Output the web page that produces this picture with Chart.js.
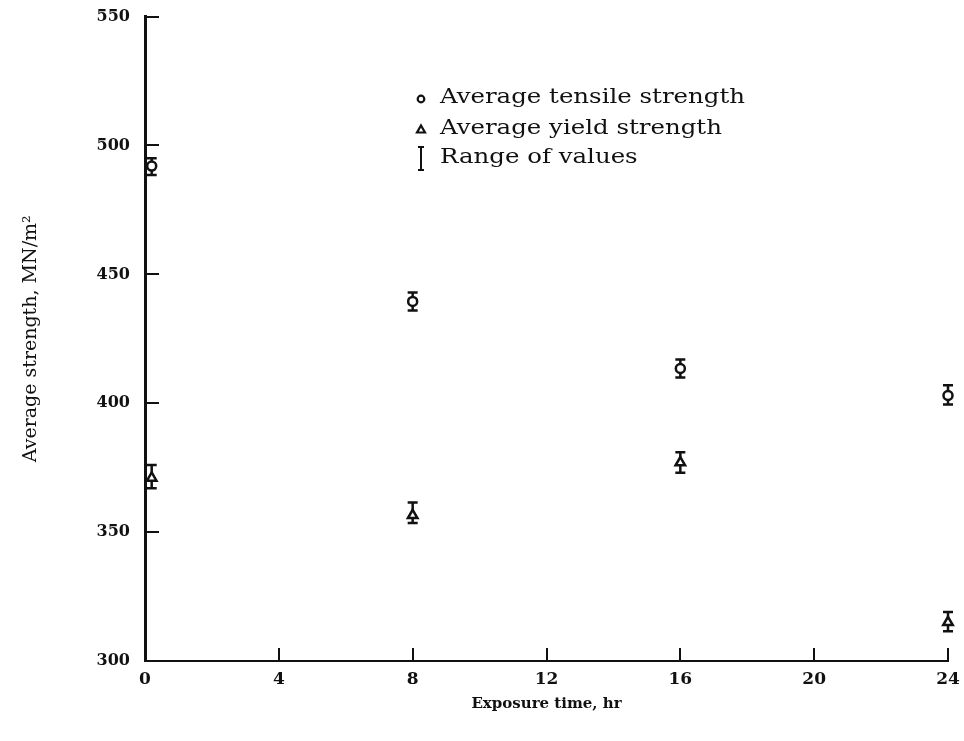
<!DOCTYPE html>
<html lang="en">
<head>
  <meta charset="UTF-8" />
  <title>Average strength vs exposure time</title>
  <script src="https://cdn.jsdelivr.net/npm/chart.js"></script>
  <style>
    html, body { margin: 0; padding: 0; background: #fff; }
    #wrap { width: 964px; height: 741px; }
  </style>
</head>
<body>
  <div id="wrap"><canvas id="strengthChart" width="964" height="741"></canvas></div>

  <script>
    // exposure times (hr) and strengths (MN/m^2)
    const hours = [0.2, 8, 16, 24];
    const tensileAvg = [492, 439.5, 413.5, 403];
    const tensileLow = [488.5, 436, 410, 399.5];
    const tensileHigh = [495, 443, 417, 407];
    const yieldAvg = [371, 356.5, 377, 315];
    const yieldLow = [367, 353.5, 373, 311.5];
    const yieldHigh = [376, 361.5, 381, 319];

    const xTicks = [0, 4, 8, 12, 16, 20, 24];
    const yTicks = [300, 350, 400, 450, 500, 550];
    const legendLabels = ['Average tensile strength', 'Average yield strength', 'Range of values'];

    const ink = '#111';
    const serif = '"DejaVu Serif", "Liberation Serif", serif';

    const toPoints = (vals) => hours.map((h, i) => ({ x: h, y: vals[i] }));

    // vertical range bars with caps, drawn under the markers
    const rangeBars = {
      id: 'rangeBars',
      beforeDatasetsDraw(chart) {
        const { ctx, scales: { x, y } } = chart;
        ctx.save();
        ctx.strokeStyle = ink;
        ctx.lineWidth = 2.5;
        [[tensileLow, tensileHigh], [yieldLow, yieldHigh]].forEach(([lo, hi]) => {
          hours.forEach((h, i) => {
            const px = x.getPixelForValue(h);
            const top = y.getPixelForValue(hi[i]);
            const bot = y.getPixelForValue(lo[i]);
            ctx.beginPath();
            ctx.moveTo(px, top); ctx.lineTo(px, bot);
            ctx.moveTo(px - 5, top); ctx.lineTo(px + 5, top);
            ctx.moveTo(px - 5, bot); ctx.lineTo(px + 5, bot);
            ctx.stroke();
          });
        });
        ctx.restore();
      }
    };

    // tick marks point into the plot
    const innerTicks = {
      id: 'innerTicks',
      afterDraw(chart) {
        const { ctx, chartArea: a, scales: { x, y } } = chart;
        ctx.save();
        ctx.strokeStyle = ink;
        ctx.lineWidth = 2;
        ctx.beginPath();
        yTicks.forEach(v => {
          const py = Math.round(y.getPixelForValue(v));
          ctx.moveTo(a.left, py); ctx.lineTo(a.left + 14, py);
        });
        xTicks.forEach(v => {
          const px = Math.round(x.getPixelForValue(v));
          ctx.moveTo(px, a.bottom); ctx.lineTo(px, a.bottom - 13);
        });
        ctx.stroke();
        ctx.restore();
      }
    };

    // key inside the plot area; text stretched to the wide typeface width
    const keyBox = {
      id: 'keyBox',
      afterDraw(chart) {
        const { ctx } = chart;
        const mx = 421, tx = 440;
        const rows = [98, 129, 158];
        ctx.save();
        ctx.fillStyle = ink;
        ctx.strokeStyle = ink;
        ctx.font = '21px ' + serif;
        ctx.textBaseline = 'middle';
        const sx = 305 / ctx.measureText(legendLabels[0]).width;
        legendLabels.forEach((t, i) => {
          ctx.save();
          ctx.translate(tx, rows[i]);
          ctx.scale(sx, 1);
          ctx.fillText(t, 0, 0);
          ctx.restore();
        });

        ctx.lineWidth = 2.2;
        ctx.beginPath();
        ctx.arc(mx, rows[0] + 1, 3.3, 0, Math.PI * 2);
        ctx.stroke();

        ctx.beginPath();
        ctx.moveTo(mx, rows[1] - 3.5);
        ctx.lineTo(mx + 4, rows[1] + 3.5);
        ctx.lineTo(mx - 4, rows[1] + 3.5);
        ctx.closePath();
        ctx.stroke();

        ctx.lineWidth = 2;
        ctx.beginPath();
        ctx.moveTo(mx, rows[2] - 11); ctx.lineTo(mx, rows[2] + 12);
        ctx.moveTo(mx - 3, rows[2] - 11); ctx.lineTo(mx + 3, rows[2] - 11);
        ctx.moveTo(mx - 3, rows[2] + 12); ctx.lineTo(mx + 3, rows[2] + 12);
        ctx.stroke();
        ctx.restore();
      }
    };

    const ctx = document.getElementById('strengthChart').getContext('2d');
    new Chart(ctx, {
      type: 'scatter',
      data: {
        datasets: [{
          label: legendLabels[0],
          data: toPoints(tensileAvg),
          pointStyle: 'circle',
          pointRadius: 4.5,
          pointBorderWidth: 2.5,
          pointBorderColor: ink,
          pointBackgroundColor: '#fff',
          clip: false
        }, {
          label: legendLabels[1],
          data: toPoints(yieldAvg),
          pointStyle: 'triangle',
          pointRadius: 5.5,
          pointBorderWidth: 2.5,
          pointBorderColor: ink,
          pointBackgroundColor: '#fff',
          clip: false
        }]
      },
      options: {
        responsive: false,
        animation: false,
        layout: { padding: { top: 15, right: 16, left: 0, bottom: 0 } },
        plugins: {
          legend: { display: false },
          tooltip: { enabled: false }
        },
        scales: {
          x: {
            type: 'linear',
            min: 0,
            max: 24,
            afterBuildTicks: (s) => { s.ticks = xTicks.map(v => ({ value: v })); },
            afterFit: (s) => { s.height = 80; },
            grid: { display: false },
            border: { display: true, color: ink, width: 2 },
            ticks: {
              color: ink,
              padding: 0,
              font: { family: serif, size: 17, weight: 'bold' }
            },
            title: {
              display: true,
              text: 'Exposure time, hr',
              color: ink,
              padding: { top: 4, bottom: 28 },
              font: { family: serif, size: 15, weight: 'bold' }
            }
          },
          y: {
            min: 300,
            max: 550,
            afterBuildTicks: (s) => { s.ticks = yTicks.map(v => ({ value: v })); },
            afterFit: (s) => { s.width = 145; },
            grid: { display: false },
            border: { display: true, color: ink, width: 3 },
            ticks: {
              color: ink,
              padding: 7,
              font: { family: serif, size: 16, weight: 'bold' }
            },
            title: {
              display: true,
              text: 'Average strength, MN/m²',
              color: ink,
              padding: { top: 20, bottom: 0 },
              font: { family: serif, size: 19 }
            }
          }
        }
      },
      plugins: [rangeBars, innerTicks, keyBox]
    });
  </script>
</body>
</html>
